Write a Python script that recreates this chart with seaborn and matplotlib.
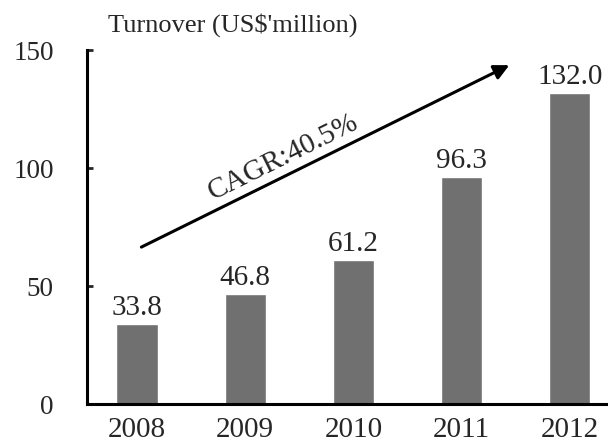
import matplotlib
matplotlib.use("Agg")
import matplotlib.pyplot as plt
import seaborn as sns
import pandas as pd

years = ['2008', '2009', '2010', '2011', '2012']
turnover = [33.8, 46.8, 61.2, 96.3, 132.0]
y_ticks = [0, 50, 100, 150]
title = "Turnover (US\\$'million)"
cagr_label = 'CAGR:40.5%'

sns.set_style('ticks')
plt.rcParams['font.family'] = ['Liberation Serif', 'DejaVu Serif']

df = pd.DataFrame({'year': years, 'turnover': turnover})

fig = plt.figure(figsize=(6.08, 4.43), dpi=100)
ax = fig.add_axes([0.143, 0.088, 0.857, 0.799])

sns.barplot(data=df, x='year', y='turnover', color='#707070', saturation=1,
            width=0.38, ax=ax)
ax.bar_label(ax.containers[0], fmt='%.1f', fontsize=21, padding=2)

ax.set_xlim(-0.463, 4.352)
ax.set_ylim(0, 150)
ax.set_yticks(y_ticks)
ax.set_xlabel('')
ax.set_ylabel('')

for s in ['top', 'right']:
    ax.spines[s].set_visible(False)
for s in ['left', 'bottom']:
    ax.spines[s].set_linewidth(2.2)
    ax.spines[s].set_color('black')

ax.tick_params(axis='y', direction='in', length=4, width=2, labelsize=19.5, pad=24)
ax.tick_params(axis='x', length=0, labelsize=21, pad=9)

# growth arrow
ax.annotate('', xy=(3.44, 143.6), xytext=(0.04, 66.5),
            arrowprops=dict(arrowstyle='-|>,head_length=0.9,head_width=0.45',
                            color='black', lw=2.2, shrinkA=0, shrinkB=0))
ax.text(1.35, 104.7, cagr_label, fontsize=21, rotation=26.3,
        ha='center', va='center', rotation_mode='anchor')

fig.text(108 / 608, 1 - 32 / 443, title, fontsize=19, ha='left', va='baseline')

fig.savefig('out.png', dpi=100)
